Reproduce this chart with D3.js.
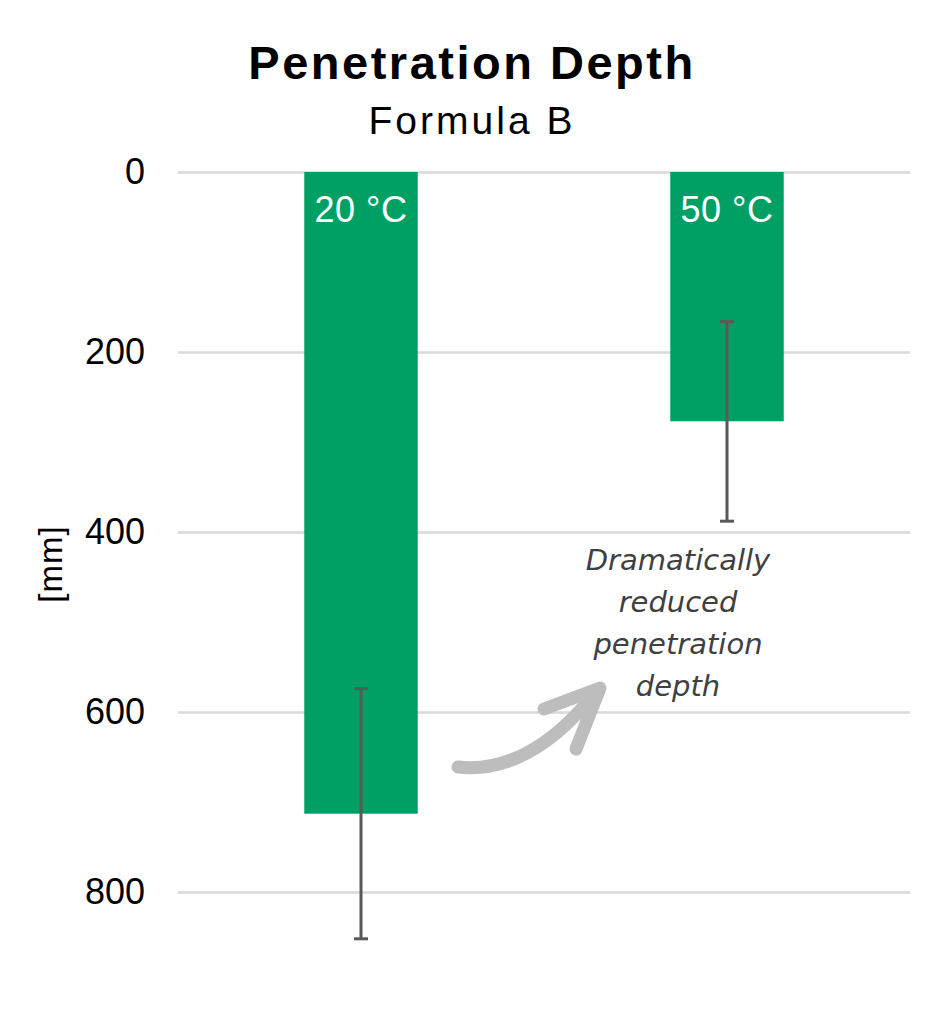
<!DOCTYPE html>
<html>
<head>
<meta charset="utf-8">
<script src="https://cdn.jsdelivr.net/npm/d3@7"></script>
<style>
  body { margin: 0; background: #fff; }
  svg text { font-family: "Liberation Sans", Arial, sans-serif; }
</style>
</head>
<body>
<script>
// chart data
var categories = ['20 °C', '50 °C'];
var depths = [713, 277];
var errors = [139, 111];
var yTicks = [0, 200, 400, 600, 800];
var noteLines = ['Dramatically', 'reduced', 'penetration', 'depth'];

var width = 942, height = 1012;
var margin = { top: 172, right: 32, bottom: 120, left: 178 };

var svg = d3.select('body').append('svg')
  .attr('width', width).attr('height', height);

/***********************************************************************************/
// Scales
var x = d3.scaleBand().domain(categories)
  .range([margin.left, width - margin.right]).padding(0);
var y = d3.scaleLinear().domain([0, 800])
  .range([margin.top, margin.top + 720]);
var barW = x.bandwidth() * 0.31;

/***********************************************************************************/
// Title
svg.append('text').attr('x', 472).attr('y', 79).attr('text-anchor', 'middle')
  .style('font-size', '47px').style('font-weight', 'bold').style('letter-spacing', '2.5px')
  .text('Penetration Depth');
svg.append('text').attr('x', 472).attr('y', 134).attr('text-anchor', 'middle')
  .style('font-size', '39px').style('letter-spacing', '3px').text('Formula B');

/***********************************************************************************/
// Grid + axis
var yAxis = d3.axisLeft(y).tickValues(yTicks)
  .tickSize(-(width - margin.right - margin.left)).tickPadding(33);
var gAxis = svg.append('g').attr('transform', `translate(${margin.left},0)`).call(yAxis);
gAxis.select('.domain').remove();
gAxis.selectAll('.tick line').attr('stroke', '#d9d9d9').attr('stroke-width', 2.5);
gAxis.selectAll('.tick text').attr('fill', '#000').style('font-size', '36px')
  .style('font-family', '"Liberation Sans", Arial, sans-serif');

svg.append('text').attr('transform', 'translate(62,564) rotate(-90)')
  .attr('text-anchor', 'middle').style('font-size', '33px').style('letter-spacing', '1px')
  .text('[mm]');

/***********************************************************************************/
// Bars
var bars = svg.append('g').selectAll('g').data(categories).join('g');
bars.append('rect')
  .attr('x', function(d){ return x(d) + (x.bandwidth() - barW) / 2; })
  .attr('y', y(0))
  .attr('width', barW)
  .attr('height', function(d, i){ return y(depths[i]) - y(0); })
  .attr('fill', '#00a065');
bars.append('text')
  .attr('x', function(d){ return x(d) + x.bandwidth() / 2; })
  .attr('y', y(0) + 50)
  .attr('text-anchor', 'middle').attr('fill', '#fff')
  .style('font-size', '36px').style('letter-spacing', '0.5px')
  .text(function(d){ return d; });

// Error bars
var err = svg.append('g').attr('stroke', '#595959').attr('stroke-width', 3);
categories.forEach(function(c, i){
  var cx = x(c) + x.bandwidth() / 2;
  var lo = y(depths[i] - errors[i]), hi = y(depths[i] + errors[i]);
  err.append('line').attr('x1', cx).attr('x2', cx).attr('y1', lo).attr('y2', hi);
  err.append('line').attr('x1', cx - 7).attr('x2', cx + 7).attr('y1', lo).attr('y2', lo);
  err.append('line').attr('x1', cx - 7).attr('x2', cx + 7).attr('y1', hi).attr('y2', hi);
});

/***********************************************************************************/
// Annotation
var note = svg.append('text').attr('text-anchor', 'middle').attr('fill', '#404040')
  .style('font-size', '29px')
  .style('font-family', '"DejaVu Sans", sans-serif').style('font-weight', '200')
  .style('font-style', 'italic');
noteLines.forEach(function(t, i){
  note.append('tspan').attr('x', 678).attr('y', 570 + i * 42).text(t);
});

var arrow = svg.append('g').attr('fill', 'none').attr('stroke', '#bdbdbd')
  .attr('stroke-linecap', 'round').attr('stroke-linejoin', 'round');
arrow.append('path').attr('d', 'M458,767 Q530,775 597,691').attr('stroke-width', 13);
arrow.append('path').attr('d', 'M544,709 L600,688 L576,749').attr('stroke-width', 13);
</script>
</body>
</html>
